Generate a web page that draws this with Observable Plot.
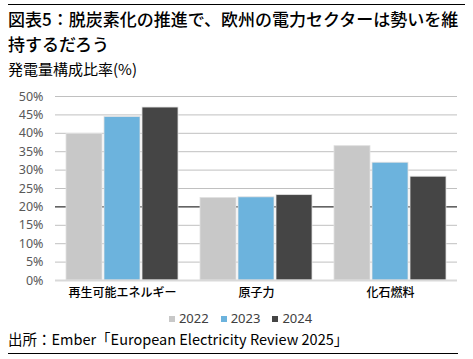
<!DOCTYPE html>
<html><head><meta charset="utf-8">
<script src="https://cdn.jsdelivr.net/npm/d3@7"></script>
<script src="https://cdn.jsdelivr.net/npm/@observablehq/plot@0.6"></script>
<style>
body{margin:0;background:#fff;}
#c{position:relative;width:473px;height:359px;overflow:hidden;font-family:"Noto Sans CJK JP","Noto Sans",sans-serif;color:#000;}
.abs{position:absolute;}
#title{left:8px;top:6px;font-size:17px;line-height:25px;font-weight:500;white-space:nowrap;}
#sub{left:8px;top:59px;font-size:15px;line-height:20px;}
#chart{left:0;top:86px;}
#legend{left:4px;top:309px;width:473px;text-align:center;font-family:"Noto Sans",sans-serif;font-size:13px;color:#404040;}
#legend span.item{margin:0 6px;}
#legend span.sw{display:inline-block;width:6px;height:6px;margin-right:4px;vertical-align:middle;position:relative;top:-1px;}
#src{left:8px;top:329px;font-size:14.5px;line-height:20px;white-space:nowrap;}
</style></head>
<body><div id="c">
<div class="abs" style="left:8px;top:4px;width:457px;height:1px;background:#000"></div>
<div class="abs" id="title">図表5：脱炭素化の推進で、欧州の電力セクターは勢いを維<br>持するだろう</div>
<div class="abs" id="sub">発電量構成比率(%)</div>
<div class="abs" id="chart"></div>
<div class="abs" id="legend"></div>
<div class="abs" id="src">出所：Ember「European Electricity Review 2025」</div>
<div class="abs" style="left:8px;top:353px;width:450px;height:1px;background:#000"></div>
</div>
<script>
const categories = ["再生可能エネルギー", "原子力", "化石燃料"];
const years = ["2022", "2023", "2024"];
const values2022 = [39.8, 22.4, 36.5];
const values2023 = [44.4, 22.6, 32.0];
const values2024 = [47.0, 23.2, 28.2];
const yearColors = ["#c8c8c8", "#6cb3dd", "#454545"];
const yTicks = [0, 5, 10, 15, 20, 25, 30, 35, 40, 45, 50];

const series = [values2022, values2023, values2024];
const data = [];
categories.forEach((c, i) => years.forEach((y, j) => data.push({category: c, year: y, value: series[j][i]})));

const chart = Plot.plot({
  width: 473, height: 220,
  marginLeft: 54, marginRight: 16, marginTop: 10, marginBottom: 26,
  style: {background: "transparent"},
  fx: {domain: categories, padding: 0, label: null, axis: null},
  x: {domain: years, paddingInner: 0.044, paddingOuter: 0.27, axis: null},
  y: {domain: [0, 50], label: null, axis: null},
  color: {domain: years, range: yearColors},
  marks: [
    Plot.ruleY(yTicks.filter(t => t > 0 && t !== 20), {stroke: "#c0c0c0", strokeWidth: 1}),
    Plot.ruleY([20], {stroke: "#000", strokeWidth: 1}),
    Plot.barY(data, {fx: "category", x: "year", y: "value", fill: "year", stroke: "#e0e0e0", strokeWidth: 0.8}),
    Plot.ruleY([0], {stroke: "#d9d9d9", strokeWidth: 2}),
    Plot.axisY({ticks: yTicks, tickSize: 0, tickPadding: 12, tickFormat: d => d + "%", label: null,
      fontSize: 12.5, fill: "#595959", fontFamily: "Noto Sans"}),
    Plot.axisFx({anchor: "bottom", tickSize: 0, tickPadding: 8, label: null, fontSize: 12, fontWeight: 500,
      fontFamily: "Noto Sans CJK JP", fill: "#000"})
  ]
});
document.getElementById("chart").appendChild(chart);

const lg = document.getElementById("legend");
years.forEach((y, i) => {
  const it = document.createElement("span");
  it.className = "item";
  it.innerHTML = `<span class="sw" style="background:${yearColors[i]}"></span>${y}`;
  lg.appendChild(it);
});
</script>
</body></html>
